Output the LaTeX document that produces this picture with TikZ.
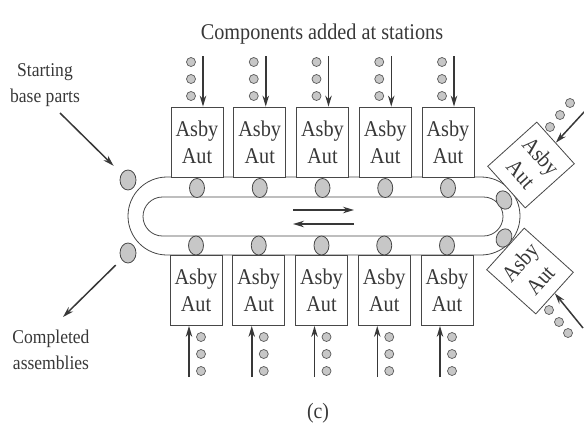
\documentclass[tikz,border=0pt]{standalone}
\usepackage{fontspec}
\setmainfont{Liberation Serif}[FakeStretch=0.9]
\usetikzlibrary{shapes.geometric,arrows.meta}
\begin{document}
\begin{tikzpicture}[x=1pt,y=-1pt,
  ln/.style={draw=black!72,line width=0.8pt},
  stn/.style={ln,fill=white,rectangle,minimum width=52pt,minimum height=70pt,inner sep=0pt,
    align=center,text=black!78,font=\fontsize{22.5}{27}\selectfont},
  rstn/.style={stn,minimum width=56pt,minimum height=66pt},
  part/.style={ln,ellipse,fill=black!22,minimum width=15pt,minimum height=19pt,inner sep=0pt},
  feed/.style={draw=black!65,line width=0.7pt,circle,fill=black!22,minimum size=9pt,inner sep=0pt},
  arr/.style={draw=black!78,line width=1.5pt,-{Stealth[length=11pt,width=6.5pt]}},
  lbl/.style={text=black!78,align=center,inner sep=0pt,font=\fontsize{19.5}{26}\selectfont}]

\useasboundingbox (0,0) rectangle (584,440);

% conveyor tracks
\draw[ln,rounded corners=39pt] (128,177) rectangle (520,255);
\draw[ln,rounded corners=19.5pt] (143,197) rectangle (503,236);

% stations
\foreach \i in {0,...,4}{
  \pgfmathsetmacro\xt{197+62.75*\i}
  \pgfmathsetmacro\xb{196+62.75*\i}
  \node[part] (pt\i) at (\xt,188) {};
  \node[part] (pb\i) at (\xb,245.5) {};
  \node[stn] (t\i) at (\xt,142) {Asby\\Aut};
  \node[stn] (b\i) at (\xb,290.5) {Asby\\Aut};
  \foreach \yy/\n in {62/1,79/2,96/3}
    \node[feed] (ft\i\n) at (\xt-6,\yy) {};
  \foreach \yy/\n in {337/1,354/2,371/3}
    \node[feed] (fb\i\n) at (\xb+5,\yy) {};
  \coordinate (ats\i) at (\xt+6,56);
  \draw[arr] (ats\i) -- (t\i.north -| ats\i);
  \coordinate (abs\i) at (\xb-7,377);
  \draw[arr] (abs\i) -- (b\i.south -| abs\i);
}

% rotated stations at the right end
\node[rstn,rotate=-48] (rt) at (531,165) {Asby\\Aut};
\node[rstn,rotate=48] (rb) at (530,271) {Asby\\Aut};
\node[part,rotate=25] (pr1) at (504,200) {};
\node[part,rotate=-25] (pr2) at (504,238) {};
\node[feed] (fr1) at (550,127) {};
\node[feed] (fr2) at (560,115) {};
\node[feed] (fr3) at (570,103) {};
\coordinate (ars) at (585,111);
\draw[arr] (ars) -- (rt.north);
\node[feed] (fs1) at (549,310) {};
\node[feed] (fs2) at (559,322) {};
\node[feed] (fs3) at (568,333) {};
\coordinate (abr) at (583,328);
\draw[arr] (abr) -- (rb.south);

% direction arrows
\coordinate (m1a) at (293,210);
\coordinate (m1b) at (354,210);
\coordinate (m2a) at (354,224);
\coordinate (m2b) at (293,224);
\draw[arr,line width=1.3pt] (m1a) -- (m1b);
\draw[arr,line width=1.3pt] (m2a) -- (m2b);

% base parts in / assemblies out
\node[part,minimum width=16pt,minimum height=20pt] (sp) at (128,180) {};
\node[part,minimum width=16pt,minimum height=20pt] (cp) at (128,253) {};
\coordinate (sa) at (60,113);
\draw[arr,shorten >=11pt] (sa) -- (sp);
\coordinate (ca) at (63,317);
\draw[arr,shorten <=8pt] (cp) -- (ca);

% labels
\node[lbl] (st) at (45,85.5) {Starting\\base parts};
\node[lbl] (cm) at (51,350) {Completed\\assemblies};
\node[lbl,font=\fontsize{22.5}{27}\selectfont,anchor=base] (title) at (322,39.5) {Components added at stations};
\node[lbl,font=\fontsize{22}{27}\selectfont,anchor=base] (cap) at (318,418) {(c)};
\end{tikzpicture}
\end{document}
